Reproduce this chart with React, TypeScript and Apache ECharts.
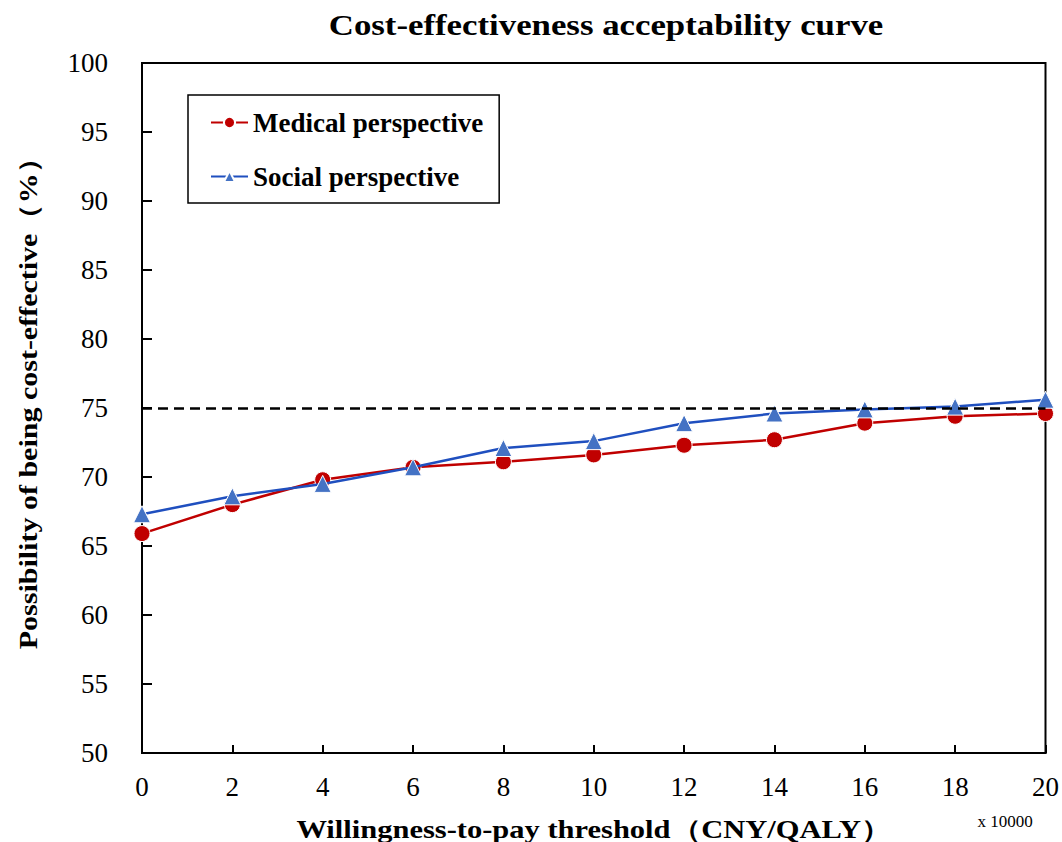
import React, { useEffect, useRef } from "react";
import * as echarts from "echarts";

const wtpThresholds = [0, 2, 4, 6, 8, 10, 12, 14, 16, 18, 20];
const medicalValues = [65.9, 68.0, 69.8, 70.7, 71.1, 71.6, 72.3, 72.7, 73.9, 74.4, 74.6];
const socialValues = [67.3, 68.6, 69.5, 70.7, 72.1, 72.6, 73.9, 74.6, 74.9, 75.1, 75.6];
const thresholdLine = 75;
const seriesNames = ["Medical perspective", "Social perspective"];

const FONT = "'Liberation Serif', 'Times New Roman', serif";

export default function App() {
  const ref = useRef<HTMLDivElement>(null);
  useEffect(() => {
    document.body.style.margin = "0";
    if (!ref.current) return;
    const chart = echarts.init(ref.current, undefined, { renderer: "svg" });
    const toPairs = (vals: number[]) => wtpThresholds.map((x, i) => [x, vals[i]]);
    chart.setOption({
      animation: false,
      backgroundColor: "#ffffff",
      textStyle: { fontFamily: FONT },
      grid: {
        left: 142,
        right: 16,
        top: 63,
        bottom: 89,
        show: true,
        borderColor: "#000",
        borderWidth: 2,
        backgroundColor: "transparent",
      },
      legend: {
        orient: "vertical",
        left: 188,
        top: 95,
        padding: [14, 16, 13, 22],
        itemGap: 27,
        itemWidth: 37,
        itemHeight: 14,
        borderColor: "#000",
        borderWidth: 1.5,
        data: seriesNames,
        textStyle: { fontFamily: FONT, fontWeight: "bold", fontSize: 27, color: "#000" },
      },
      xAxis: {
        type: "value",
        min: 0,
        max: 20,
        interval: 2,
        axisLine: { show: true, lineStyle: { color: "#000", width: 2 } },
        axisTick: { show: true, inside: true, length: 8, lineStyle: { color: "#000", width: 2 } },
        splitLine: { show: false },
        axisLabel: { fontFamily: FONT, fontSize: 27, color: "#000", margin: 20 },
      },
      yAxis: {
        type: "value",
        min: 50,
        max: 100,
        interval: 5,
        axisLine: { show: true, lineStyle: { color: "#000", width: 2 } },
        axisTick: { show: true, inside: true, length: 10, lineStyle: { color: "#000", width: 2 } },
        splitLine: { show: false },
        axisLabel: { fontFamily: FONT, fontSize: 27, color: "#000", margin: 34 },
      },
      graphic: [
        {
          type: "text",
          x: 606,
          y: 25,
          scaleX: 1.2,
          style: {
            text: "Cost-effectiveness acceptability curve",
            fontFamily: FONT,
            fontWeight: "bold",
            fontSize: 29,
            fill: "#000",
            align: "center",
            verticalAlign: "middle",
          },
        },
        {
          type: "text",
          x: 28,
          y: 396,
          rotation: Math.PI / 2,
          scaleX: 1.2,
          style: {
            text: "Possibility of being cost-effective（%）",
            fontFamily: FONT,
            fontWeight: "bold",
            fontSize: 25,
            fill: "#000",
            align: "center",
            verticalAlign: "middle",
          },
        },
        {
          type: "text",
          x: 594,
          y: 829,
          scaleX: 1.22,
          style: {
            text: "Willingness-to-pay threshold（CNY/QALY）",
            fontFamily: FONT,
            fontWeight: "bold",
            fontSize: 25,
            fill: "#000",
            align: "center",
            verticalAlign: "middle",
          },
        },
        {
          type: "text",
          x: 1005,
          y: 821,
          style: {
            text: "x 10000",
            fontFamily: FONT,
            fontSize: 17,
            fill: "#000",
            align: "center",
            verticalAlign: "middle",
          },
        },
      ],
      series: [
        {
          name: seriesNames[0],
          type: "line",
          data: toPairs(medicalValues),
          symbol: "circle",
          symbolSize: 16,
          lineStyle: { color: "#C00000", width: 2.5 },
          itemStyle: { color: "#C00000", borderColor: "#fff", borderWidth: 1 },
          z: 3,
          markLine: {
            silent: true,
            symbol: ["none", "none"],
            label: { show: false },
            lineStyle: { color: "#000", type: [10, 6], width: 2.5 },
            data: [{ yAxis: thresholdLine }],
          },
        },
        {
          name: seriesNames[1],
          type: "line",
          data: toPairs(socialValues),
          symbol: "triangle",
          symbolSize: 17,
          lineStyle: { color: "#1F4FBF", width: 2.5 },
          itemStyle: { color: "#4472C4", borderColor: "#fff", borderWidth: 1 },
          z: 4,
        },
      ],
    });
    return () => chart.dispose();
  }, []);
  return <div ref={ref} style={{ width: 1062, height: 842 }} />;
}
